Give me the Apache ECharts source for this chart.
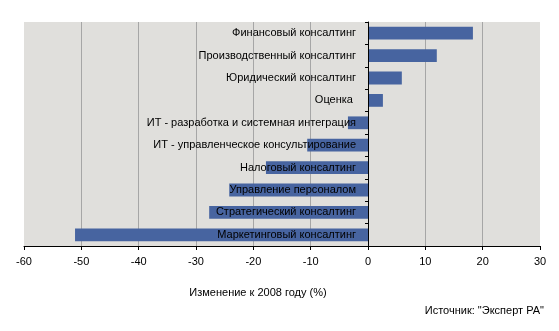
<!DOCTYPE html>
<html><head><meta charset="utf-8">
<script src="https://cdn.jsdelivr.net/npm/echarts@6/dist/echarts.min.js"></script>
<style>html,body{margin:0;padding:0;background:#fff}#c{width:559px;height:331px}</style>
</head><body><div id="c"></div>
<script>
const categories = [
  "Финансовый консалтинг",
  "Производственный консалтинг",
  "Юридический консалтинг",
  "Оценка ",
  "ИТ - разработка и системная интеграция",
  "ИТ - управленческое консультирование",
  "Налоговый консалтинг",
  "Управление персоналом",
  "Стратегический консалтинг",
  "Маркетинговый консалтинг"
];
const values = [18.3, 12.0, 5.9, 2.6, -3.5, -10.6, -17.8, -24.2, -27.7, -51.1];
const xTicks = [-60, -50, -40, -30, -20, -10, 0, 10, 20, 30];
const axisTitle = "Изменение к 2008 году (%)";
const sourceText = "Источник: \"Эксперт РА\"";

const FONT = "'Liberation Sans', Arial, sans-serif";
const GRID_LEFT = 24, GRID_RIGHT = 19, W = 559;
const plotW = W - GRID_LEFT - GRID_RIGHT;
const zeroOffset = -plotW * (0 - xTicks[0]) / (xTicks[xTicks.length - 1] - xTicks[0]);

const chart = echarts.init(document.getElementById('c'), null, {renderer: 'canvas'});
chart.setOption({
  animation: false,
  backgroundColor: '#ffffff',
  textStyle: {fontFamily: FONT},
  title: [
    {text: axisTitle, left: 258, top: 287, textAlign: 'center', padding: 0,
     textStyle: {fontSize: 11, fontWeight: 'normal', color: '#000', fontFamily: FONT}},
    {text: sourceText, right: 15, top: 305, padding: 0,
     textStyle: {fontSize: 11, fontWeight: 'normal', color: '#000', fontFamily: FONT}}
  ],
  grid: {left: GRID_LEFT, right: GRID_RIGHT, top: 22, bottom: 85, show: true,
         containLabel: false, outerBoundsMode: 'none',
         backgroundColor: '#e0dfdc', borderWidth: 0},
  xAxis: {
    type: 'value', min: xTicks[0], max: xTicks[xTicks.length - 1], interval: 10,
    axisLine: {show: true, onZero: false, lineStyle: {color: '#000', width: 1}},
    axisTick: {show: true, length: 4, lineStyle: {color: '#000'}},
    axisLabel: {fontSize: 11, color: '#000', margin: 10, fontFamily: FONT},
    splitLine: {show: true, showMinLine: false, showMaxLine: false,
                lineStyle: {color: '#a6a6a6', width: 1}}
  },
  yAxis: {
    type: 'category', data: categories, inverse: true, z: 10,
    position: 'left', offset: zeroOffset,
    axisLine: {show: true, onZero: false, lineStyle: {color: '#000', width: 1}},
    axisTick: {show: true, length: 3, inside: false, lineStyle: {color: '#000'}},
    axisLabel: {fontSize: 11, color: '#000', margin: 12, fontFamily: FONT},
    splitLine: {show: false}
  },
  series: [{
    type: 'bar', data: values, barWidth: '57%',
    itemStyle: {color: '#4764a0'}, z: 2
  }]
});
</script></body></html>
